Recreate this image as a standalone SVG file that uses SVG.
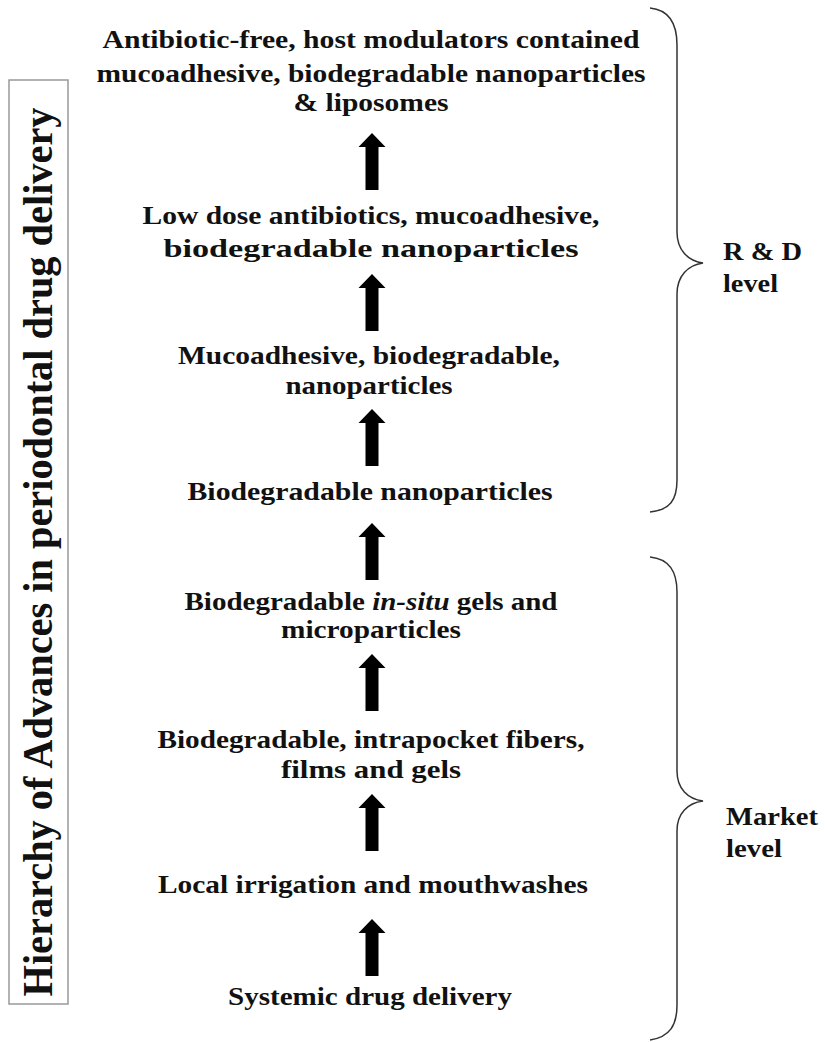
<svg xmlns="http://www.w3.org/2000/svg" width="825" height="1042" viewBox="0 0 825 1042">
<style>
.t{font-family:"Liberation Serif","Times New Roman",serif;font-weight:bold;font-size:25px;fill:#111;text-anchor:middle}
.s{font-family:"Liberation Serif","Times New Roman",serif;font-weight:bold;font-size:25px;fill:#111}
.br{fill:none;stroke:#333;stroke-width:1.5}
.ar{fill:#000}
</style>
<defs>
<path id="arrow" d="M-6.5,0 L-6.5,-43 L-13.5,-43 L0,-57 L13.5,-43 L6.5,-43 L6.5,0 Z"/>
</defs>
<rect width="825" height="1042" fill="#fff"/>
<g id="title">
<rect x="9" y="80" width="59" height="924" fill="none" stroke="#999" stroke-width="1.5"/>
<text class="t" transform="translate(52,552) rotate(-90)" style="font-size:42px" textLength="889" lengthAdjust="spacingAndGlyphs">Hierarchy of Advances in periodontal drug delivery</text>
</g>
<g id="n1">
<text class="t" x="371" y="48" textLength="537" lengthAdjust="spacingAndGlyphs">Antibiotic-free, host modulators contained</text>
<text class="t" x="371" y="82" textLength="549" lengthAdjust="spacingAndGlyphs">mucoadhesive, biodegradable nanoparticles</text>
<text class="t" x="371" y="111" textLength="155" lengthAdjust="spacingAndGlyphs">&amp; liposomes</text>
</g>
<g id="n2">
<text class="t" x="371" y="224" textLength="457" lengthAdjust="spacingAndGlyphs">Low dose antibiotics, mucoadhesive,</text>
<text class="t" x="371" y="257" textLength="415" lengthAdjust="spacingAndGlyphs">biodegradable nanoparticles</text>
</g>
<g id="n3">
<text class="t" x="369" y="364" textLength="382" lengthAdjust="spacingAndGlyphs">Mucoadhesive, biodegradable,</text>
<text class="t" x="369" y="394" textLength="167" lengthAdjust="spacingAndGlyphs">nanoparticles</text>
</g>
<g id="n4">
<text class="t" x="370" y="500" textLength="365" lengthAdjust="spacingAndGlyphs">Biodegradable nanoparticles</text>
</g>
<g id="n5">
<text class="t" x="371" y="610" textLength="373" lengthAdjust="spacingAndGlyphs">Biodegradable <tspan font-style="italic">in-situ</tspan> gels and</text>
<text class="t" x="371" y="638" textLength="180" lengthAdjust="spacingAndGlyphs">microparticles</text>
</g>
<g id="n6">
<text class="t" x="371" y="748" textLength="427" lengthAdjust="spacingAndGlyphs">Biodegradable, intrapocket fibers,</text>
<text class="t" x="371" y="778" textLength="180" lengthAdjust="spacingAndGlyphs">films and gels</text>
</g>
<g id="n7">
<text class="t" x="373" y="893" textLength="430" lengthAdjust="spacingAndGlyphs">Local irrigation and mouthwashes</text>
</g>
<g id="n8">
<text class="t" x="370" y="1005" textLength="284" lengthAdjust="spacingAndGlyphs">Systemic drug delivery</text>
</g>
<g id="connectors">
<use href="#arrow" class="ar" transform="translate(372,190)"/>
<use href="#arrow" class="ar" transform="translate(372,331)"/>
<use href="#arrow" class="ar" transform="translate(372,466)"/>
<use href="#arrow" class="ar" transform="translate(372,580)"/>
<use href="#arrow" class="ar" transform="translate(372,711)"/>
<use href="#arrow" class="ar" transform="translate(372,851)"/>
<use href="#arrow" class="ar" transform="translate(372,976)"/>
</g>
<g id="rd-brace">
<path class="br" d="M650,8 C670,10 677,25 677,45 L677,232 C677,250 688,261 703,263 C688,265 677,276 677,294 L677,480 C677,500 670,510 650,512"/>
<text class="s" x="723" y="260" textLength="79" lengthAdjust="spacingAndGlyphs">R &amp; D</text>
<text class="s" x="723" y="292" textLength="55" lengthAdjust="spacingAndGlyphs">level</text>
</g>
<g id="market-brace">
<path class="br" d="M650,557 C670,559 677,572 677,592 L677,771 C677,789 688,799 703,801 C688,803 677,813 677,831 L677,1005 C677,1025 670,1037 650,1040"/>
<text class="s" x="726" y="825" textLength="92" lengthAdjust="spacingAndGlyphs">Market</text>
<text class="s" x="726" y="857" textLength="56" lengthAdjust="spacingAndGlyphs">level</text>
</g>
</svg>
